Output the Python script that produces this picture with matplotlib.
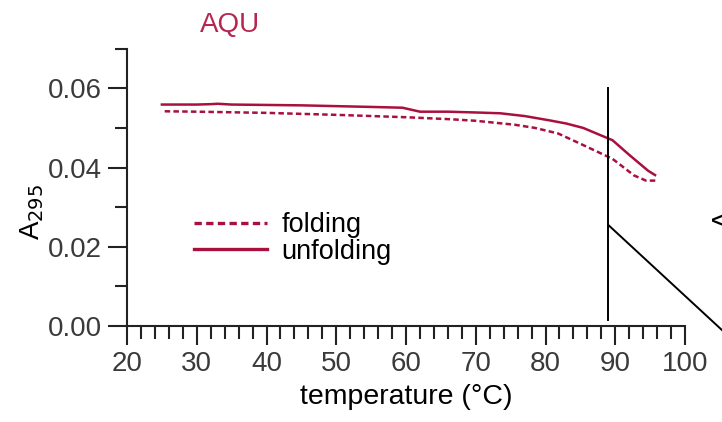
import numpy as np
import matplotlib
matplotlib.use('Agg')
import matplotlib.pyplot as plt
from matplotlib.ticker import MultipleLocator

# unfolding (solid) curve
temp_unfold = [25, 30, 32, 33, 35, 40, 45, 50, 55, 59.5, 62, 66, 70, 73.5, 77, 80.6, 83, 85.4, 89.6, 92, 94.7, 95.7]
a_unfold = [0.0559, 0.0559, 0.0560, 0.0561, 0.0559, 0.0558, 0.0557, 0.0555, 0.0553, 0.0551, 0.0541,
            0.0541, 0.0539, 0.0537, 0.0530, 0.0519, 0.0511, 0.0500, 0.0469, 0.0432, 0.0392, 0.0381]

# folding (dashed) curve
temp_fold = [25.4, 30, 40, 50, 60, 66.3, 70, 75.6, 78.5, 81.8, 85, 89.6, 92.7, 94.4, 96]
a_fold = [0.0542, 0.0541, 0.0538, 0.0533, 0.0527, 0.0522, 0.0518, 0.0508, 0.0500, 0.0486,
          0.0460, 0.0422, 0.0380, 0.0367, 0.0367]

marker_temp = 89
crimson = '#a8103d'

plt.rcParams['font.family'] = ['Liberation Sans', 'DejaVu Sans']
plt.rcParams['font.size'] = 20

fig = plt.figure(figsize=(7.22, 4.22), dpi=100)
ax = fig.add_axes([0.1759, 0.2275, 0.9488 - 0.1759, 0.8846 - 0.2275])

ax.plot(temp_fold, a_fold, color=crimson, lw=1.8, ls=(0, (2.2, 1.3)), label='folding')
ax.plot(temp_unfold, a_unfold, color=crimson, lw=1.8, label='unfolding')

ax.plot([marker_temp, marker_temp], [0.0015, 0.06], color='black', lw=1.4)
# connector line running off to the next panel
ax.annotate('', xy=(1.075, -0.031), xycoords='axes fraction',
            xytext=(marker_temp, 0.0255), textcoords='data',
            arrowprops=dict(arrowstyle='-', color='black', lw=1.4,
                            shrinkA=0, shrinkB=0), annotation_clip=False)

ax.set_xlim(20, 100)
ax.set_ylim(0, 0.07)
ax.xaxis.set_major_locator(MultipleLocator(10))
ax.xaxis.set_minor_locator(MultipleLocator(2))
ax.yaxis.set_major_locator(MultipleLocator(0.02))
ax.yaxis.set_minor_locator(MultipleLocator(0.01))
ax.yaxis.set_major_formatter(matplotlib.ticker.FormatStrFormatter('%.2f'))

for s in ['top', 'right']:
    ax.spines[s].set_visible(False)
for s in ['left', 'bottom']:
    ax.spines[s].set_linewidth(1.5)
    ax.spines[s].set_color('#222222')
ax.tick_params(which='major', length=14, width=1.5, color='#222222',
               labelcolor='#3a3a3a', pad=4)
ax.tick_params(which='minor', length=9, width=1.5, color='#222222')

ax.set_xlabel('temperature (°C)', color='black', labelpad=5, fontsize=20.5)
ax.set_ylabel('A$_{295}$', color='black')
ax.yaxis.set_label_coords(-0.146, 0.41)
ax.set_title('AQU', color='#b8264f', loc='left', x=0.13, pad=12, fontsize=20)

leg = ax.legend(loc='upper left', bbox_to_anchor=(0.1, 0.45), frameon=False,
                handlelength=2.7, handletextpad=0.55, labelspacing=0.02,
                borderaxespad=0, fontsize=19.5)
for h in leg.get_lines():
    h.set_linewidth(2.4)

# clipped label of the neighbouring panel
fig.text(0.986, 0.48, 'A', rotation=90, fontsize=19, ha='left', va='center')

fig.savefig('out.png', dpi=100)
